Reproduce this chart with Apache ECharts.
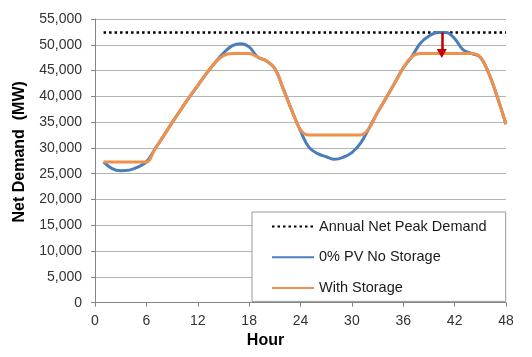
<!DOCTYPE html>
<html>
<head>
<meta charset="utf-8">
<script src="https://cdn.jsdelivr.net/npm/echarts@6/dist/echarts.min.js"></script>
<style>
html,body{margin:0;padding:0;background:#fff;}
#chart{width:532px;height:357px;}
</style>
</head>
<body>
<div id="chart"></div>
<script>
var hours = [1,2,3,4,5,6,7,8,9,10,11,12,13,14,15,16,17,18,19,20,21,22,23,24,25,26,27,28,29,30,31,32,33,34,35,36,37,38,39,40,41,42,43,44,45,46,47,48];
var noStorage = [27300,26000,25600,25700,26300,27300,29800,32300,34900,37400,39800,42100,44400,46500,48400,49800,50200,49600,47600,46900,45400,41400,37200,33300,30100,28900,28300,27800,28200,29100,30900,33800,36900,39700,42600,45500,47700,50300,51700,52400,52400,51200,49000,48300,47600,44400,39800,34600];
var withStorage = [27300,27300,27300,27300,27300,27300,29800,32300,34900,37400,39800,42100,44400,46500,47900,48300,48300,48300,47600,46900,45400,41400,37200,33500,32500,32500,32500,32500,32500,32500,32500,33800,36900,39700,42600,45500,47700,48300,48300,48300,48300,48300,48300,48300,47600,44400,39800,34600];
var peakHours = [1,48];
var peakDemand = [52400,52400];
var arrowHour = 40.5;
var arrowFrom = 52400;
var arrowTo = 48300;
var xTicks = [0,6,12,18,24,30,36,42,48];
var yTicks = [0,5000,10000,15000,20000,25000,30000,35000,40000,45000,50000,55000];
var seriesNames = ['Annual Net Peak Demand','0% PV No Storage','With Storage'];

function pairs(xs, ys){ return xs.map(function(x,i){ return [x, ys[i]]; }); }

var FONT = 'Liberation Sans, Arial, sans-serif';
var chart = echarts.init(document.getElementById('chart'), null, {renderer:'canvas'});
chart.setOption({
  animation:false,
  backgroundColor:'#ffffff',
  textStyle:{fontFamily:FONT},
  grid:{left:95, right:26, top:19, bottom:54.3, containLabel:false},
  xAxis:{
    type:'value', min:xTicks[0], max:xTicks[xTicks.length-1], interval:6,
    name:'Hour', nameLocation:'middle', nameGap:30,
    nameTextStyle:{fontFamily:FONT, fontWeight:'bold', fontSize:16, color:'#000', padding:[0,70,0,0]},
    axisLine:{show:true, lineStyle:{color:'#868686', width:1}},
    axisTick:{show:true, length:4, lineStyle:{color:'#868686'}},
    axisLabel:{fontFamily:FONT, fontSize:14, color:'#333', margin:11},
    splitLine:{show:false}
  },
  yAxis:{
    type:'value', min:yTicks[0], max:yTicks[yTicks.length-1], interval:5000,
    name:'Net Demand  (MW)', nameLocation:'middle', nameGap:67, nameRotate:90,
    nameTextStyle:{fontFamily:FONT, fontWeight:'bold', fontSize:16, color:'#000', padding:[0,0,0,18]},
    axisLine:{show:true, lineStyle:{color:'#868686', width:1}},
    axisTick:{show:true, length:4, lineStyle:{color:'#868686'}},
    axisLabel:{fontFamily:FONT, fontSize:14, color:'#333', margin:13,
      formatter:function(v){ return v.toLocaleString('en-US'); }},
    splitLine:{show:true, lineStyle:{color:'#b3b3b3', width:1}}
  },
  legend:{
    orient:'vertical', left:252, top:212,
    data:seriesNames,
    backgroundColor:'#ffffff', borderColor:'#999999', borderWidth:1,
    padding:[7,19,6,19], itemGap:15.7, itemWidth:42, itemHeight:14,
    itemStyle:{opacity:0},
    textStyle:{fontFamily:FONT, fontSize:14.5, color:'#1a1a1a'},
    z:10
  },
  series:[
    {
      name:seriesNames[0], type:'line', data:pairs(peakHours, peakDemand),
      symbol:'none', showSymbol:false, z:2,
      lineStyle:{color:'#000000', width:2.5, type:[2.5,3]},
      itemStyle:{color:'#000000'},
      markLine:{
        silent:true, symbol:['none','triangle'], symbolSize:[10,9],
        label:{show:false},
        lineStyle:{color:'#c00000', width:2.5, type:'solid'},
        data:[[{coord:[arrowHour, arrowFrom]},{coord:[arrowHour, arrowTo]}]]
      }
    },
    {
      name:seriesNames[1], type:'line', data:pairs(hours, noStorage),
      symbol:'none', showSymbol:false, smooth:0.4, z:3,
      lineStyle:{color:'#4a7ebb', width:3},
      itemStyle:{color:'#4a7ebb'}
    },
    {
      name:seriesNames[2], type:'line', data:pairs(hours, withStorage),
      symbol:'none', showSymbol:false, smooth:0.4, z:4,
      lineStyle:{color:'#f0904a', width:3},
      itemStyle:{color:'#f0904a'}
    }
  ]
});
</script>
</body>
</html>
